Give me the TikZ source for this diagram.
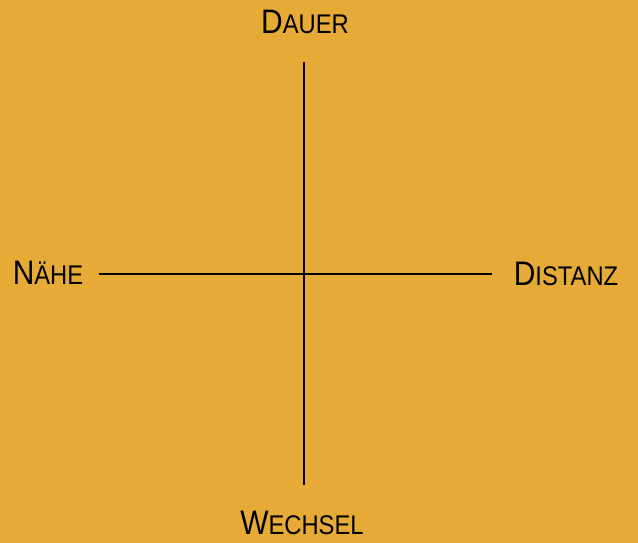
\documentclass[tikz,border=0pt]{standalone}
\usepackage{fontspec}
\usepackage{graphicx}
\setmainfont{Liberation Sans}
\definecolor{bg}{HTML}{E6AA37}
\newcommand{\hcap}[2]{\scalebox{0.88}[1]{{\fontsize{34}{36}\selectfont #1}{\fontsize{27}{30}\selectfont #2}}}
\tikzset{
  axis/.style={line width=2pt, black},
  lbl/.style={inner sep=0pt, anchor=center, text=black}
}
\begin{document}
\begin{tikzpicture}[x=1pt,y=-1pt]
\fill[bg] (0,0) rectangle (638,543);
\useasboundingbox (0,0) rectangle (638,543);
\coordinate (top) at (304,62);
\coordinate (bot) at (304,485);
\coordinate (left) at (99,274);
\coordinate (right) at (492,274);
\draw[axis] (top) -- (bot);
\draw[axis] (left) -- (right);
\node[lbl] (dauer) at (305,22) {\hcap{D}{AUER}};
\node[lbl] (naehe) at (48,273) {\hcap{N}{ÄHE}};
\node[lbl] (distanz) at (566,274) {\hcap{D}{ISTANZ}};
\node[lbl] (wechsel) at (302,523) {\hcap{W}{ECHSEL}};
\end{tikzpicture}
\end{document}
